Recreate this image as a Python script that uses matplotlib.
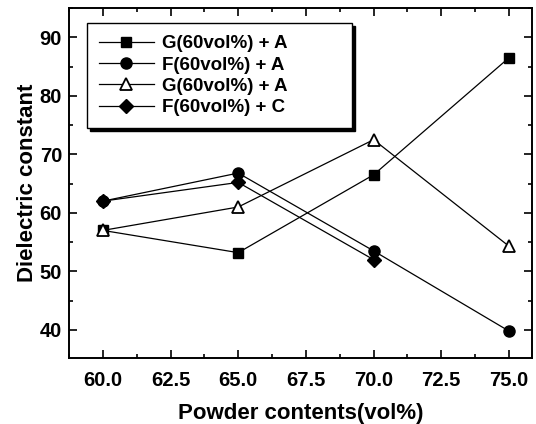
import matplotlib
matplotlib.use("Agg")
import matplotlib.pyplot as plt
from matplotlib.ticker import MultipleLocator

plt.rcParams['font.family'] = ['Liberation Sans', 'DejaVu Sans']
plt.rcParams['font.weight'] = 'bold'

# powder contents (vol%)
x = [60.0, 65.0, 70.0, 75.0]
g_a = [57.0, 53.2, 66.5, 86.5]
f_a = [62.0, 66.8, 53.5, 39.8]
g_a2 = [57.0, 61.0, 72.5, 54.3]
x_fc = [60.0, 65.0, 70.0]
f_c = [62.0, 65.2, 52.0]

fig = plt.figure(figsize=(5.36, 4.24), dpi=100)
ax = fig.add_axes([69/536, 1 - 358/424, 463/536, 350/424])

lw = 0.9
ax.plot(x, g_a, color='black', lw=lw, marker='s', ms=7, label='G(60vol%) + A')
ax.plot(x, f_a, color='black', lw=lw, marker='o', ms=8, label='F(60vol%) + A')
ax.plot(x, g_a2, color='black', lw=lw, marker='^', ms=9, mfc='white', mew=1.3,
        label='G(60vol%) + A')
ax.plot(x_fc, f_c, color='black', lw=lw, marker='D', ms=7, label='F(60vol%) + C')

ax.set_xlim(58.75, 75.85)
ax.set_ylim(35.2, 95)
ax.xaxis.set_major_locator(MultipleLocator(2.5))
ax.xaxis.set_minor_locator(MultipleLocator(1.25))
ax.yaxis.set_major_locator(MultipleLocator(10))
ax.yaxis.set_minor_locator(MultipleLocator(5))
ax.xaxis.set_major_formatter(plt.FormatStrFormatter('%.1f'))
ax.tick_params(which='both', direction='in', top=True, right=True, width=1.2)
ax.tick_params(which='major', length=6, labelsize=14.5)
ax.tick_params(axis='x', which='major', pad=9)
ax.tick_params(axis='y', which='major', pad=5)
ax.tick_params(which='minor', length=3)
for s in ax.spines.values():
    s.set_linewidth(1.4)

ax.set_xlabel('Powder contents(vol%)', fontsize=16, fontweight='bold', labelpad=10)
ax.set_ylabel('Dielectric constant', fontsize=16, fontweight='bold', labelpad=1)

leg = ax.legend(loc='upper left', bbox_to_anchor=(0.039, 0.957, 0.572, 0.0),
                mode='expand', borderaxespad=0, fontsize=13.5,
                frameon=True, fancybox=False, shadow={'color': 'black', 'alpha': 1},
                handlelength=2.9, labelspacing=0.22, borderpad=0.65, handletextpad=0.45)
leg.get_frame().set_edgecolor('black')
leg.get_frame().set_linewidth(1.0)

fig.savefig('out.png', dpi=100)
